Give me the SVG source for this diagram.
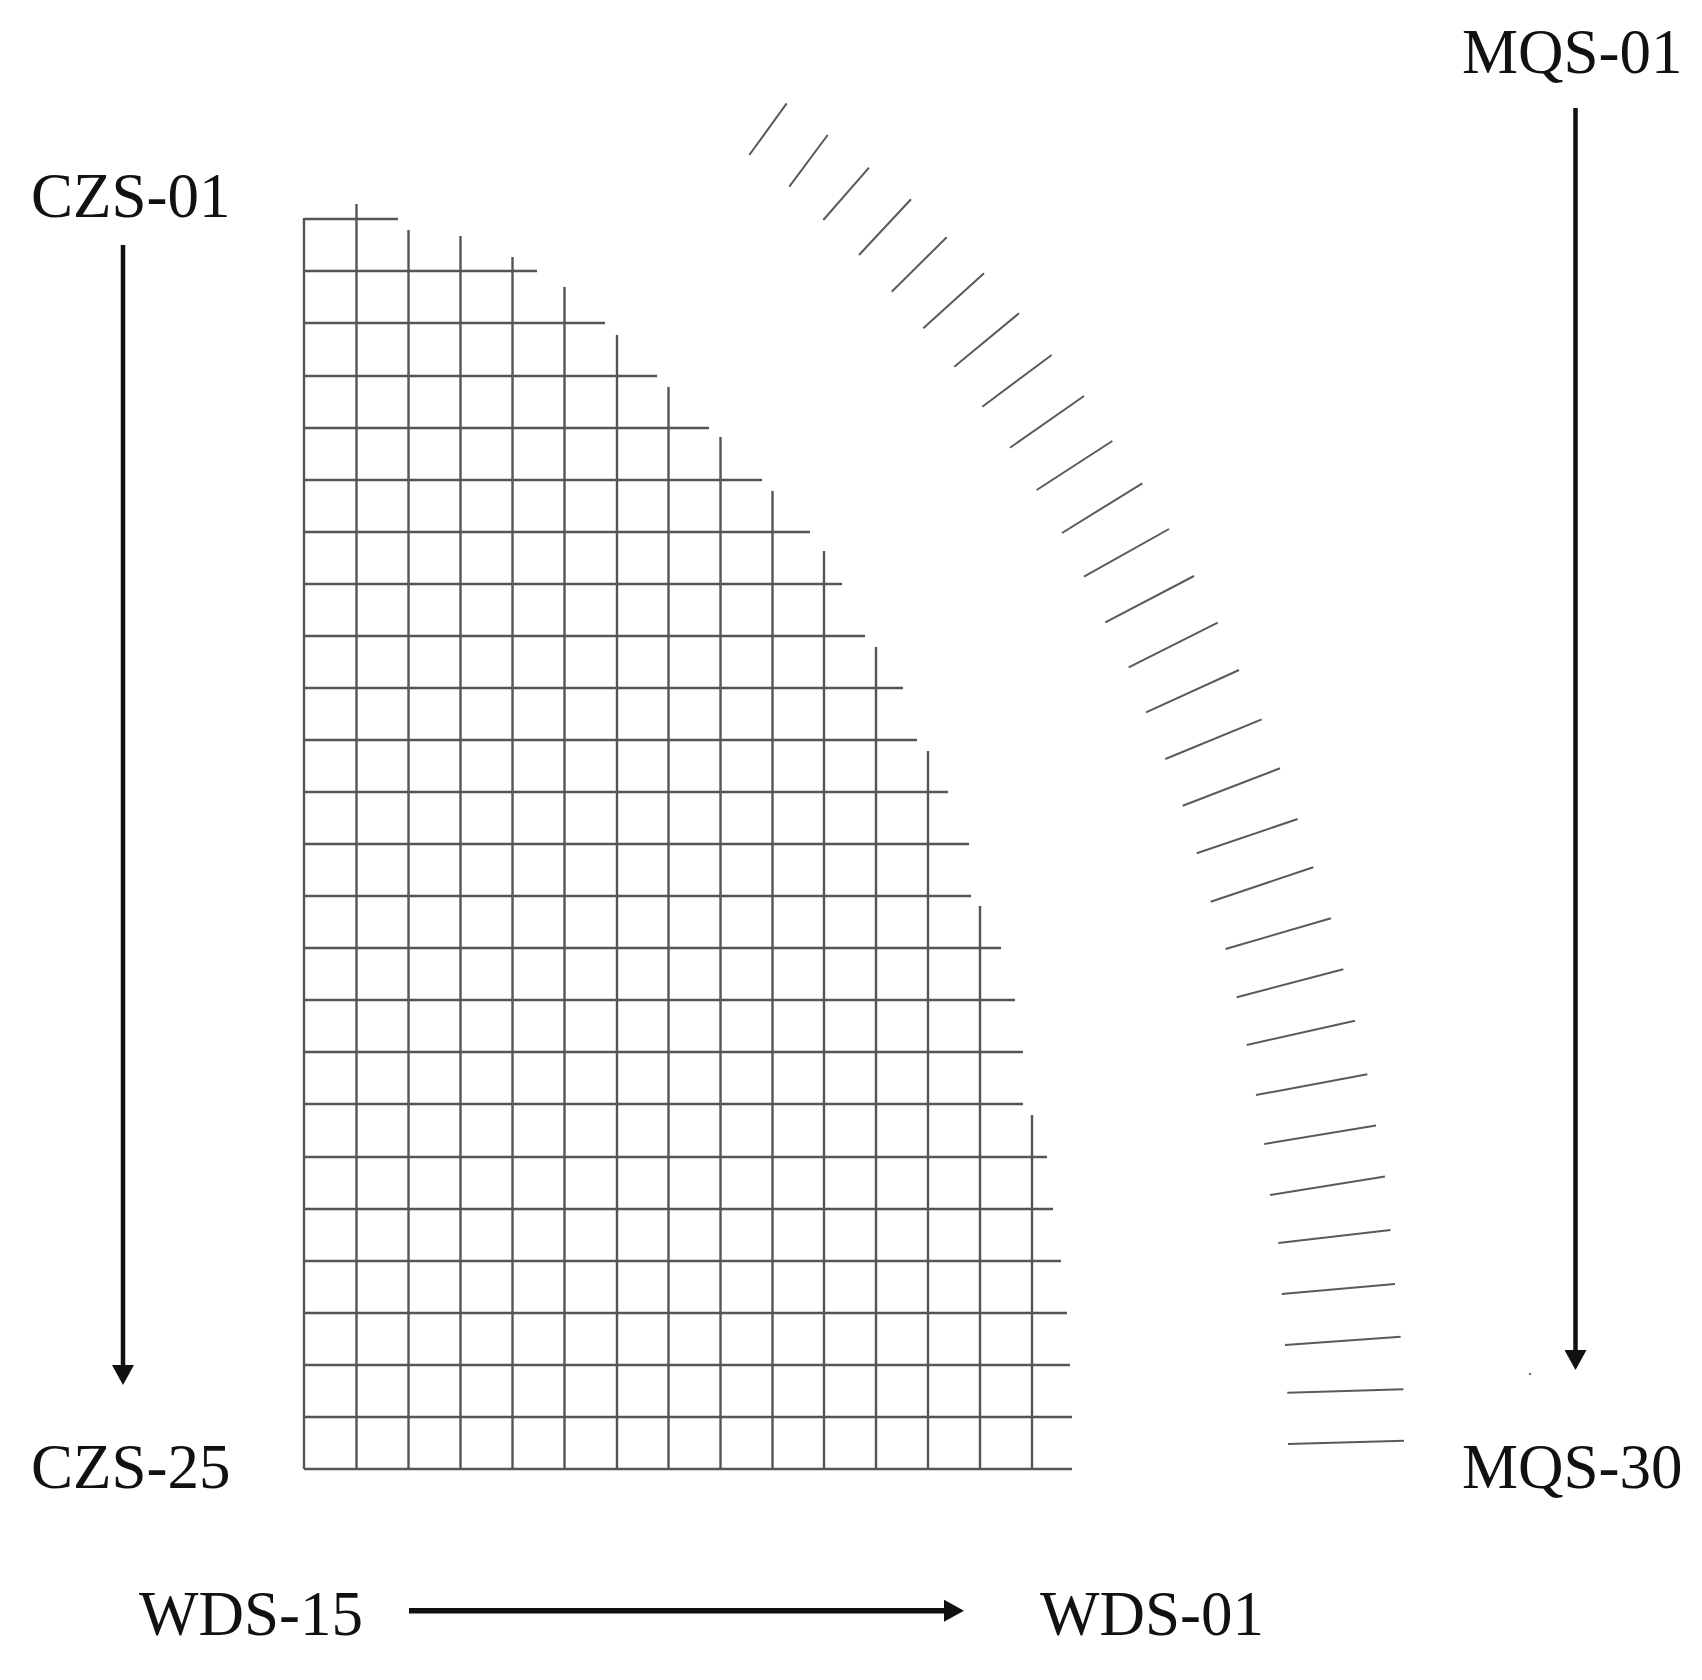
<svg xmlns="http://www.w3.org/2000/svg" width="1702" height="1680" viewBox="0 0 1702 1680">
<style>
.lbl{font-family:"Liberation Serif","Times New Roman",serif;font-size:63px;fill:#111}
.g line{stroke:#555;stroke-width:2.4}
.h line{stroke:#5a5a5a;stroke-width:2}
.arr{stroke:#111;stroke-width:4.5;fill:none}
.arr.thick{stroke-width:5.5}
</style>
<defs>
<marker id="ah" markerUnits="userSpaceOnUse" markerWidth="22" markerHeight="22" refX="2" refY="11" orient="auto">
<path d="M0,0 L20,11 L0,22 Z" fill="#111"/>
</marker>
</defs>
<rect width="1702" height="1680" fill="#fff"/>
<g id="grid" class="g">
<line x1="304" y1="219" x2="398" y2="219"/>
<line x1="304" y1="271" x2="537" y2="271"/>
<line x1="304" y1="323" x2="605" y2="323"/>
<line x1="304" y1="376" x2="657" y2="376"/>
<line x1="304" y1="428" x2="709" y2="428"/>
<line x1="304" y1="480" x2="762" y2="480"/>
<line x1="304" y1="532" x2="810" y2="532"/>
<line x1="304" y1="584" x2="842" y2="584"/>
<line x1="304" y1="636" x2="865" y2="636"/>
<line x1="304" y1="688" x2="903" y2="688"/>
<line x1="304" y1="740" x2="917" y2="740"/>
<line x1="304" y1="792" x2="948" y2="792"/>
<line x1="304" y1="844" x2="969" y2="844"/>
<line x1="304" y1="896" x2="971" y2="896"/>
<line x1="304" y1="948" x2="1001" y2="948"/>
<line x1="304" y1="1000" x2="1015" y2="1000"/>
<line x1="304" y1="1052" x2="1023" y2="1052"/>
<line x1="304" y1="1104" x2="1023" y2="1104"/>
<line x1="304" y1="1157" x2="1047" y2="1157"/>
<line x1="304" y1="1209" x2="1053" y2="1209"/>
<line x1="304" y1="1261" x2="1061" y2="1261"/>
<line x1="304" y1="1313" x2="1067" y2="1313"/>
<line x1="304" y1="1365" x2="1070" y2="1365"/>
<line x1="304" y1="1417" x2="1072" y2="1417"/>
<line x1="304" y1="1469" x2="1072" y2="1469"/>
<line x1="304" y1="218" x2="304" y2="1469"/>
<line x1="356.5" y1="204" x2="356.5" y2="1469"/>
<line x1="408.5" y1="230" x2="408.5" y2="1469"/>
<line x1="460.5" y1="236" x2="460.5" y2="1469"/>
<line x1="512.5" y1="257" x2="512.5" y2="1469"/>
<line x1="564.5" y1="287" x2="564.5" y2="1469"/>
<line x1="617" y1="335" x2="617" y2="1469"/>
<line x1="668.5" y1="387" x2="668.5" y2="1469"/>
<line x1="720.5" y1="437" x2="720.5" y2="1469"/>
<line x1="772.5" y1="491" x2="772.5" y2="1469"/>
<line x1="824" y1="551" x2="824" y2="1469"/>
<line x1="876" y1="647" x2="876" y2="1469"/>
<line x1="928" y1="751" x2="928" y2="1469"/>
<line x1="980" y1="906" x2="980" y2="1469"/>
<line x1="1032" y1="1115" x2="1032" y2="1469"/>
</g>
<g id="hatch" class="h">
<line x1="749.3" y1="155" x2="786.7" y2="103.3"/>
<line x1="789.3" y1="186.7" x2="827.7" y2="135"/>
<line x1="823.3" y1="220" x2="869" y2="167.7"/>
<line x1="859" y1="255" x2="911" y2="199.3"/>
<line x1="891.7" y1="291.7" x2="946.7" y2="237.3"/>
<line x1="923.3" y1="328.3" x2="984" y2="273.3"/>
<line x1="954.3" y1="366.7" x2="1019" y2="313.3"/>
<line x1="982.3" y1="406.7" x2="1051.7" y2="355"/>
<line x1="1010" y1="447.7" x2="1084" y2="396"/>
<line x1="1036.7" y1="490" x2="1112.3" y2="441"/>
<line x1="1062" y1="533" x2="1142.3" y2="483.3"/>
<line x1="1084" y1="576.7" x2="1169" y2="529"/>
<line x1="1105.3" y1="622.3" x2="1194" y2="576"/>
<line x1="1128.7" y1="667.3" x2="1217.7" y2="622.7"/>
<line x1="1146" y1="712.3" x2="1239" y2="670"/>
<line x1="1165.3" y1="759" x2="1261.7" y2="719.3"/>
<line x1="1182.7" y1="805.7" x2="1280" y2="768.3"/>
<line x1="1196.7" y1="853.3" x2="1297.7" y2="819"/>
<line x1="1210.7" y1="901.7" x2="1313.3" y2="867.3"/>
<line x1="1225.5" y1="949" x2="1331" y2="918.3"/>
<line x1="1236.7" y1="997.3" x2="1343.3" y2="969.3"/>
<line x1="1246.7" y1="1045" x2="1355" y2="1020.7"/>
<line x1="1256" y1="1095" x2="1367.3" y2="1074.3"/>
<line x1="1264.3" y1="1144" x2="1376" y2="1125.5"/>
<line x1="1270" y1="1195" x2="1385" y2="1176.5"/>
<line x1="1278.3" y1="1243" x2="1390.5" y2="1230"/>
<line x1="1281.7" y1="1294" x2="1395" y2="1284"/>
<line x1="1285" y1="1345" x2="1400.7" y2="1336.7"/>
<line x1="1287.3" y1="1392.7" x2="1403.3" y2="1389.3"/>
<line x1="1288" y1="1444" x2="1404" y2="1440.7"/>
</g>
<circle cx="1530" cy="1374" r="1.3" fill="#777"/>
<g id="label-czs01"><text class="lbl" x="31" y="217">CZS-01</text></g>
<g id="label-czs25"><text class="lbl" x="31" y="1488">CZS-25</text></g>
<g id="label-mqs01"><text class="lbl" x="1462" y="73">MQS-01</text></g>
<g id="label-mqs30"><text class="lbl" x="1462" y="1488">MQS-30</text></g>
<g id="label-wds15"><text class="lbl" x="139" y="1635">WDS-15</text></g>
<g id="label-wds01"><text class="lbl" x="1040" y="1635">WDS-01</text></g>
<g id="connectors">
<line class="arr" x1="123" y1="245" x2="123" y2="1367" marker-end="url(#ah)"/>
<line class="arr" x1="1575.5" y1="108" x2="1575.5" y2="1352" marker-end="url(#ah)"/>
<line class="arr thick" x1="409" y1="1610.7" x2="946" y2="1610.7" marker-end="url(#ah)"/>
</g>
</svg>
